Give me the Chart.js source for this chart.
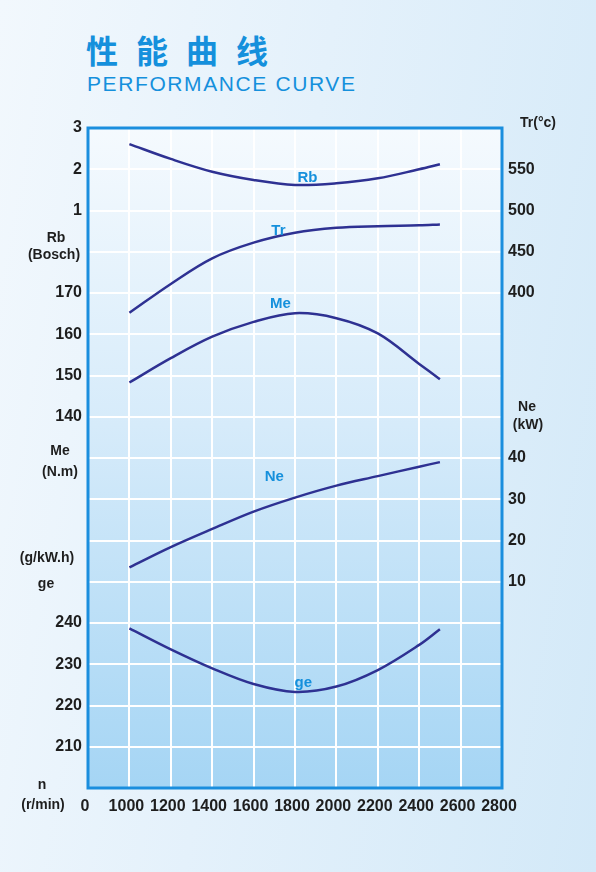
<!DOCTYPE html>
<html>
<head>
<meta charset="utf-8">
<script src="https://cdn.jsdelivr.net/npm/chart.js@4.4.0/dist/chart.umd.min.js"></script>
<style>
  html, body { margin:0; padding:0; width:596px; height:872px; overflow:hidden; }
  body {
    background: linear-gradient(100deg, #f2f8fd 0%, #e4f1fb 45%, #d3e9f8 100%);
    position: relative;
  }
  #t1 { position:absolute; left:86px; top:29px; font: bold 32px "Noto Sans CJK SC", sans-serif; letter-spacing:18px; color:#1590dc; line-height:40px; }
  #t2 { position:absolute; left:87px; top:71px; font: 21px "Liberation Sans", Arial, sans-serif; letter-spacing:1.6px; color:#1590dc; line-height:26px; }
  canvas { position:absolute; left:0; top:0; }
</style>
</head>
<body>
<div id="t1">性能曲线</div>
<div id="t2">PERFORMANCE CURVE</div>
<canvas id="c" width="596" height="872"></canvas>
<script>
// ---- data ----
const rpm = [1000, 1200, 1400, 1600, 1800, 2000, 2200, 2400, 2500];
const rbValues = [2.61, 2.25, 1.94, 1.74, 1.62, 1.66, 1.78, 2.00, 2.12];
const trValues = [376, 411, 442, 461, 473, 479, 481, 482, 483];
const meValues = [148.3, 154.2, 159.4, 163.0, 165.1, 163.9, 160.2, 152.8, 149.1];
const neValues = [13.5, 18.4, 22.8, 27.0, 30.4, 33.3, 35.6, 37.9, 39.0];
const geValues = [238.7, 233.6, 229.0, 225.2, 223.3, 224.6, 228.6, 234.7, 238.5];

const xTickLabels = ['0', '1000', '1200', '1400', '1600', '1800', '2000', '2200', '2400', '2600', '2800'];
const leftTickLabels = ['', '210', '220', '230', '240', '', '', '', '', '140', '150', '160', '170', '', '1', '2', '3'];
const rightTickLabels = ['', '', '', '', '', '10', '20', '30', '40', '', '', '', '400', '450', '500', '550', ''];

// broken rpm axis: 0 then 1000..2800 in steps of 200
const rpmPos = r => r === 0 ? 0 : (r - 800) / 200;

const lineColor = '#2e3192';
const labelBlue = '#1590dc';

function series(vals, axis, name) {
  return {
    label: name,
    data: rpm.map((r, i) => ({ x: rpmPos(r), y: vals[i] })),
    yAxisID: axis,
    borderColor: lineColor,
    borderWidth: 2.5,
    pointRadius: 0,
    fill: false,
    tension: 0.35
  };
}

// curve name labels: [text, x (rpm), y (row on grid)]
const curveNames = [
  ['Rb', 1860, 14.79],
  ['Tr', 1720, 13.51],
  ['Me', 1730, 11.74],
  ['Ne', 1700, 7.55],
  ['ge', 1840, 2.56]
];

// unit labels: [text, side, dx from axis edge, row]
const unitLabels = [
  ['Rb', 'L', -32, 13.33],
  ['(Bosch)', 'L', -34, 12.92],
  ['Me', 'L', -28, 8.17],
  ['(N.m)', 'L', -28, 7.66],
  ['(g/kW.h)', 'L', -41, 5.58],
  ['ge', 'L', -42, 4.94],
  ['n', 'L', -46, 0.07],
  ['(r/min)', 'L', -45, -0.41],
  ['Tr(°c)', 'R', 36, 16.12],
  ['Ne', 'R', 25, 9.23],
  ['(kW)', 'R', 26, 8.79]
];

const decor = {
  id: 'decor',
  beforeDraw(chart) {
    const { ctx, chartArea: a } = chart;
    const g = ctx.createLinearGradient(0, a.top, 0, a.bottom);
    g.addColorStop(0, '#f5fafe');
    g.addColorStop(0.45, '#d6ebfa');
    g.addColorStop(1, '#a5d5f4');
    ctx.save();
    ctx.fillStyle = g;
    ctx.fillRect(a.left, a.top, a.right - a.left, a.bottom - a.top);
    ctx.restore();
  },
  afterDraw(chart) {
    const { ctx, chartArea: a, scales } = chart;
    ctx.save();
    ctx.strokeStyle = '#1a8ede';
    ctx.lineWidth = 3;
    ctx.strokeRect(a.left, a.top, a.right - a.left, a.bottom - a.top);

    ctx.fillStyle = labelBlue;
    ctx.font = 'bold 15px "Liberation Sans", Arial, sans-serif';
    ctx.textAlign = 'center';
    ctx.textBaseline = 'middle';
    curveNames.forEach(([t, r, row]) => {
      ctx.fillText(t, scales.x.getPixelForValue(rpmPos(r)), scales.y.getPixelForValue(row));
    });

    ctx.fillStyle = '#1e1e1e';
    ctx.font = 'bold 14px "Liberation Sans", Arial, sans-serif';
    unitLabels.forEach(([t, side, dx, row]) => {
      const x = side === 'L' ? a.left + dx : a.right + dx;
      ctx.fillText(t, x, scales.y.getPixelForValue(row));
    });
    ctx.restore();
  }
};

const tickFont = { family: '"Liberation Sans", Arial, sans-serif', size: 16, weight: 'bold' };

new Chart(document.getElementById('c'), {
  type: 'line',
  data: {
    datasets: [
      series(rbValues, 'sRb', 'Rb'),
      series(trValues, 'sTr', 'Tr'),
      series(meValues, 'sMe', 'Me'),
      series(neValues, 'sNe', 'Ne'),
      series(geValues, 'sGe', 'ge')
    ]
  },
  options: {
    responsive: false,
    animation: false,
    devicePixelRatio: 1,
    layout: { padding: { top: 128, left: 0, right: 0, bottom: 0 } },
    plugins: { legend: { display: false }, tooltip: { enabled: false } },
    scales: {
      x: {
        type: 'linear', axis: 'x', min: 0, max: 10,
        afterFit(s) { s.height = 84; },
        grid: { color: '#ffffff', lineWidth: 2, drawTicks: false },
        border: { display: false },
        ticks: {
          stepSize: 1, autoSkip: false, maxRotation: 0, padding: 9, labelOffset: -3,
          color: '#1e1e1e', font: tickFont,
          callback: v => xTickLabels[v] ?? ''
        }
      },
      y: {
        type: 'linear', axis: 'y', position: 'left', min: 0, max: 16,
        afterFit(s) { s.width = 88; },
        grid: { color: '#ffffff', lineWidth: 2, drawTicks: false },
        border: { display: false },
        ticks: {
          stepSize: 1, autoSkip: false, padding: 6,
          color: '#1e1e1e', font: tickFont,
          callback: v => leftTickLabels[v] ?? ''
        }
      },
      yR: {
        type: 'linear', axis: 'y', position: 'right', min: 0, max: 16,
        afterFit(s) { s.width = 94; },
        grid: { display: false, drawTicks: false },
        border: { display: false },
        ticks: {
          stepSize: 1, autoSkip: false, padding: 6,
          color: '#1e1e1e', font: tickFont,
          callback: v => rightTickLabels[v] ?? ''
        }
      },
      sRb: { type: 'linear', axis: 'y', display: false, min: -13, max: 3 },
      sTr: { type: 'linear', axis: 'y', display: false, min: -200, max: 600 },
      sMe: { type: 'linear', axis: 'y', display: false, min: 50, max: 210 },
      sNe: { type: 'linear', axis: 'y', display: false, min: -40, max: 120 },
      sGe: { type: 'linear', axis: 'y', display: false, min: 200, max: 360 }
    }
  },
  plugins: [decor]
});
</script>
</body>
</html>
